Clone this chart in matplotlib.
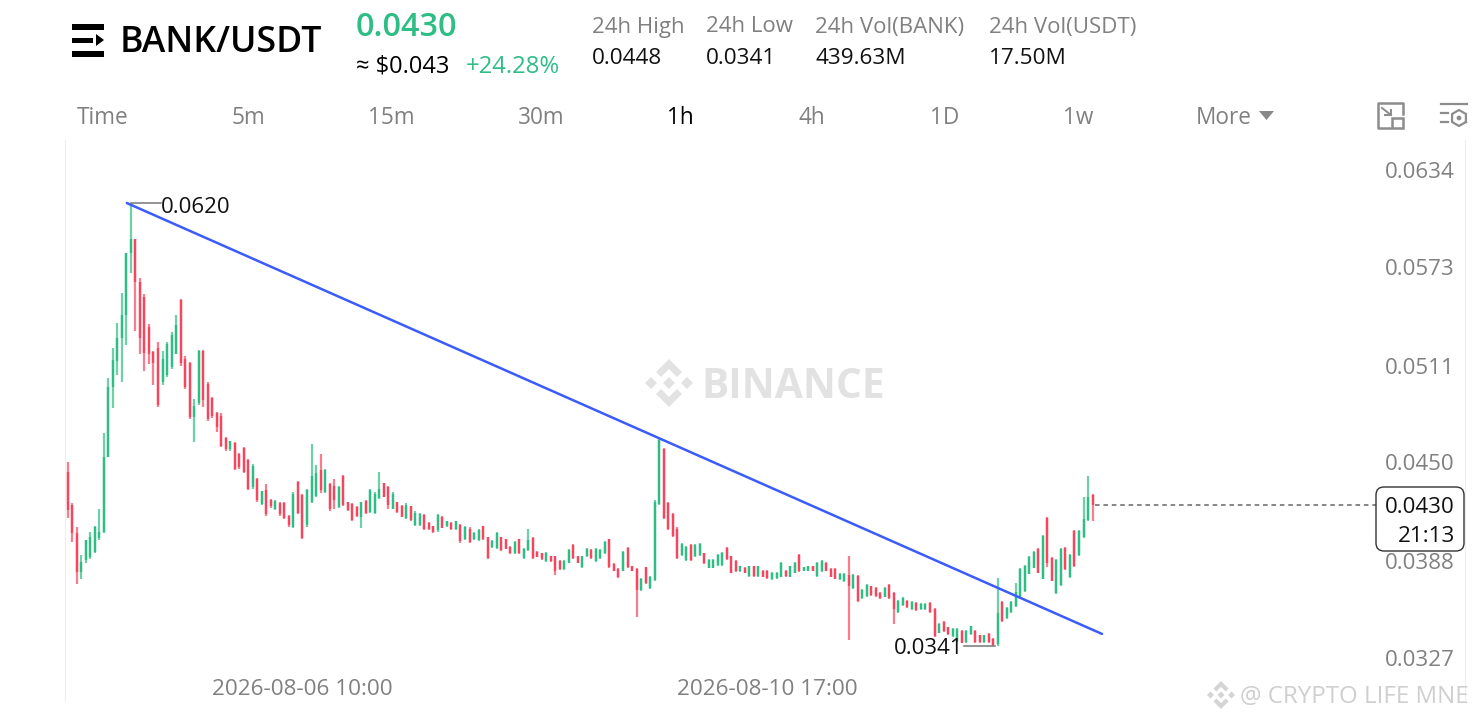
import numpy as np
import matplotlib
matplotlib.use("Agg")
import matplotlib.pyplot as plt
from matplotlib.patches import Polygon, Rectangle, FancyBboxPatch, Circle
from matplotlib.transforms import ScaledTranslation

# hourly candles, prices in 1e-5 USDT
highs = [4571,4308,4161,3983,4077,4130,4167,4270,4749,5096,5285,5442,5635,5887,6200,5971,5726,5627,5436,5268,
         5324,5266,5324,5385,5495,5595,5236,5197,4964,5274,5274,5074,4976,4886,4875,4724,4703,4695,4627,4665,
         4585,4556,4466,4388,4428,4337,4329,4316,4316,4234,4377,4449,4367,4396,4680,4550,4617,4528,4434,4459,
         4417,4487,4319,4308,4291,4319,4329,4396,4377,4508,4438,4417,4377,4319,4297,4308,4295,4258,4245,4239,
         4190,4169,4239,4228,4199,4188,4199,4178,4167,4157,4127,4148,4169,4098,4077,4127,4098,4087,4039,4069,
         4087,4027,4148,4098,4008,3997,3999,3980,3980,3951,3951,4018,4050,3980,3980,4029,4018,4029,4018,4069,
         4087,3930,3899,4010,4031,3917,3899,3840,3909,3850,4329,4711,4657,4319,4245,4157,4058,4039,4050,4050,
         4056,3997,3955,3959,3989,4001,4031,3980,3951,3917,3905,3917,3917,3917,3888,3888,3875,3875,3938,3888,
         3917,3938,3989,3909,3917,3917,3938,3951,3938,3899,3899,3871,3871,3978,3861,3859,3766,3798,3791,3779,
         3749,3783,3800,3749,3699,3720,3699,3695,3689,3678,3678,3686,3649,3552,3569,3531,3523,3521,3510,3510,
         3539,3510,3481,3481,3489,3460,3840,3691,3657,3691,3808,3899,3920,3976,4010,4029,4108,4220,3968,3959,
         4027,4031,3987,4140,4140,4350,4480,4367]
lows = [4218,4067,3800,3829,3930,3961,3997,4077,4119,4598,4907,5116,5074,5306,5757,5396,5247,5144,5186,5054,
        4917,5054,5106,5156,5247,5175,5026,4838,4697,4928,4917,4829,4848,4760,4665,4638,4638,4518,4528,4497,
        4392,4400,4318,4298,4230,4281,4266,4230,4207,4161,4151,4241,4081,4161,4308,4350,4371,4371,4262,4270,
        4279,4291,4260,4199,4220,4151,4239,4249,4239,4333,4346,4270,4270,4249,4220,4209,4199,4167,4169,4140,
        4140,4119,4130,4151,4161,4140,4140,4060,4077,4060,4077,4069,4077,3959,4027,4018,4010,4018,3989,3989,
        3989,3959,4010,3959,3970,3951,3941,3941,3859,3888,3888,3930,3959,3930,3899,3970,3959,3941,3959,3989,
        3899,3880,3840,3880,3899,3880,3590,3758,3800,3770,3821,4298,4207,4140,4098,3959,3978,3947,3947,3972,
        3978,3926,3899,3899,3917,3917,3951,3867,3877,3875,3867,3846,3846,3842,3842,3833,3825,3833,3842,3846,
        3842,3867,3875,3880,3880,3880,3846,3875,3880,3842,3829,3825,3815,3451,3768,3689,3709,3720,3728,3720,
        3709,3716,3709,3550,3619,3665,3649,3636,3632,3636,3636,3619,3468,3489,3497,3479,3468,3436,3426,3430,
        3479,3430,3430,3430,3430,3413,3410,3560,3581,3619,3657,3709,3749,3861,3899,3867,3829,3909,3817,3739,
        3789,3888,3840,3909,3978,4090,4199,4199]
opens = [4508,4298,4119,3878,3951,3972,4004,4088,4130,4602,5043,5207,5348,5495,5883,5971,5705,5610,5420,5260,
         5290,5070,5120,5170,5250,5590,5220,5190,4850,4940,5270,5060,4970,4880,4860,4720,4650,4690,4620,4655,
         4580,4410,4460,4305,4390,4330,4270,4310,4310,4230,4160,4440,4360,4170,4315,4355,4520,4380,4430,4420,
         4285,4480,4315,4305,4288,4225,4325,4255,4245,4340,4435,4410,4275,4315,4295,4215,4290,4172,4175,4235,
         4185,4165,4140,4225,4165,4185,4145,4175,4085,4150,4082,4075,4165,4095,4032,4025,4095,4082,4035,3995,
         4082,3965,4015,4090,4005,3993,3946,3977,3975,3948,3893,3935,4045,3976,3905,3975,4012,3945,3964,3993,
         4082,3926,3895,3885,4025,3913,3895,3762,3905,3775,3825,4305,4650,4310,4240,4150,3983,3952,4045,3978,
         3982,3993,3904,3904,3922,3922,4026,3975,3946,3880,3900,3852,3912,3848,3884,3884,3830,3838,3847,3884,
         3847,3872,3984,3884,3884,3912,3851,3880,3933,3895,3895,3830,3820,3860,3773,3854,3714,3725,3786,3774,
         3745,3720,3795,3745,3624,3670,3695,3641,3684,3641,3641,3681,3645,3494,3564,3527,3473,3441,3505,3435,
         3484,3505,3477,3435,3485,3456,3420,3686,3586,3624,3662,3714,3754,3866,3904,4024,3834,4215,3963,3744,
         3794,4026,3845,4135,3983,4095,4205,4362]
closes = [4266,4119,3878,3941,4077,4098,4161,4130,4602,5043,5211,5348,5495,5883,5971,5705,5350,5253,5250,5190,
          4930,5220,5310,5370,5430,5190,5040,4850,4920,5270,4960,4840,4860,4790,4670,4650,4700,4525,4535,4505,
          4400,4545,4330,4385,4240,4290,4325,4240,4215,4170,4370,4250,4090,4390,4480,4500,4390,4520,4270,4330,
          4410,4300,4265,4205,4228,4315,4245,4390,4370,4400,4350,4300,4370,4255,4225,4300,4205,4250,4240,4145,
          4145,4125,4235,4155,4195,4145,4195,4070,4160,4065,4122,4140,4082,3965,4072,4120,4015,4022,3993,4062,
          3993,4022,4080,3965,3973,3955,3995,3945,3880,3892,3947,4012,3965,3935,3975,4023,3963,4023,4014,4062,
          3905,3885,3845,4005,3905,3884,3760,3835,3805,3845,4320,4705,4215,4145,4105,3965,4052,4033,3952,4045,
          4050,3930,3950,3953,3984,3996,3955,3872,3882,3912,3872,3912,3852,3912,3847,3838,3870,3870,3933,3850,
          3912,3932,3880,3905,3912,3884,3933,3946,3884,3847,3834,3866,3866,3790,3855,3695,3761,3793,3733,3725,
          3714,3778,3714,3640,3694,3715,3653,3690,3637,3673,3673,3624,3475,3547,3502,3484,3518,3516,3431,3505,
          3534,3435,3435,3477,3435,3418,3620,3565,3652,3686,3750,3894,3915,3971,4005,3872,4103,3930,3822,3954,
          4022,3893,3982,3914,4135,4210,4350,4300]

price_ticks = [0.0634, 0.0573, 0.0511, 0.0450, 0.0388, 0.0327]
date_ticks = [52, 155]
date_labels = ["2026-08-06 10:00", "2026-08-10 17:00"]
tabs = ["Time", "5m", "15m", "30m", "1h", "4h", "1D", "1w", "More"]
tab_x = [103, 248, 391, 541, 680, 812, 945, 1078, 1224]
stats = [("24h High", "0.0448", 592), ("24h Low", "0.0341", 706),
         ("24h Vol(BANK)", "439.63M", 815), ("24h Vol(USDT)", "17.50M", 989)]
last_price = 0.0430
peak = 0.0620
bottom = 0.0341
trend_x = [13.1, 229.1]
trend_y = [0.0620, 0.03486]

GREEN = "#2ebd85"
RED = "#f6465d"
plt.rcParams["font.family"] = "Open Sans"

highs = np.array(highs) / 1e5
lows = np.array(lows) / 1e5
opens = np.array(opens) / 1e5
closes = np.array(closes) / 1e5
idx = np.arange(len(highs))
colors = np.where(closes >= opens, GREEN, RED)

fig = plt.figure(figsize=(14.75, 7.2), dpi=100, facecolor="white")
ax = fig.add_axes([65 / 1475, 1 - 700 / 720, 1400 / 1475, 560 / 720])
ax.set_xlim(-0.6, 309.5)
ax.set_ylim(0.03070, 0.06597)

ax.vlines(idx, lows, highs, colors=colors, lw=1.6, alpha=0.7, capstyle="butt")
ax.vlines(idx, opens, closes, colors=colors, lw=1.7, capstyle="butt")
ax.plot(trend_x, trend_y, color="#3b5bfb", lw=1.8, solid_capstyle="round")

# high / low markers
ax.plot([14, 20.6], [peak, peak], color="#777777", lw=1.1)
ax.text(20.6, peak - 0.00012, "0.0620", fontsize=16, va="center_baseline", ha="left", color="#111111")
ax.plot([198.5, 205.5], [bottom, bottom], color="#777777", lw=1.1)
ax.text(198.5, bottom, "0.0341", fontsize=16, va="center_baseline", ha="right", color="#111111")
ax.plot([227.5, 290.7], [last_price, last_price], color="#666666", lw=1.1, dashes=(3, 2.5))

for side in ["top", "bottom"]:
    ax.spines[side].set_visible(False)
for side in ["left", "right"]:
    ax.spines[side].set_color("#eeeeee")
ax.yaxis.tick_right()
ax.set_yticks(price_ticks)
ax.set_yticklabels([f"{v:.4f}" for v in price_ticks], fontsize=16.1, color="#808080", ha="right", va="bottom")
ax.tick_params(axis="y", length=0, pad=-7.2)
shift = ScaledTranslation(0, -2.5 / 100, fig.dpi_scale_trans)
for lab in ax.get_yticklabels():
    lab.set_transform(lab.get_transform() + shift)
ax.set_xticks(date_ticks)
ax.set_xticklabels(date_labels, fontsize=16.2, color="#808080")
ax.tick_params(axis="x", length=0, pad=-15)

# everything around the chart, in pixel coordinates
ov = fig.add_axes([0, 0, 1, 1], zorder=5)
ov.set_xlim(0, 1475)
ov.set_ylim(720, 0)
ov.axis("off")


def logo(cx, cy, r, color):
    s = r / 24.0
    ov.add_patch(Polygon([(cx - 6 * s, cy), (cx, cy - 6 * s), (cx + 6 * s, cy), (cx, cy + 6 * s)], fc=color, ec="none"))
    for d in (-1, 1):
        ov.add_patch(Polygon([(cx + d * 12 * s, cy), (cx + d * 18 * s, cy - 6 * s), (cx + d * 24 * s, cy),
                              (cx + d * 18 * s, cy + 6 * s)], fc=color, ec="none"))
        ov.add_patch(Polygon([(cx, cy + d * 24 * s), (cx + 13 * s, cy + d * 11 * s), (cx + 8 * s, cy + d * 6 * s),
                              (cx, cy + d * 14 * s), (cx - 8 * s, cy + d * 6 * s), (cx - 13 * s, cy + d * 11 * s)],
                             fc=color, ec="none"))


# watermarks
logo(669, 383, 24, "#e2e2e2")
ov.text(701, 387, "BINANCE", fontsize=29.3, fontweight="bold", color="#e2e2e2", va="center", ha="left")
logo(1221, 695, 14, "#d4d4d4")
ov.text(1240, 697, "@ CRYPTO LIFE MNE", fontsize=17.3, color="#cfcfcf", va="center", ha="left", clip_on=True)

# header
for y in (24, 51):
    ov.add_patch(Rectangle((72, y), 32, 5.5, fc="black", ec="none"))
ov.add_patch(Rectangle((72, 37.5), 21, 5.5, fc="black", ec="none"))
ov.add_patch(Polygon([(96, 34), (104, 40), (96, 46)], fc="black", ec="none"))
ov.text(120, 43, "BANK/USDT", fontsize=25.7, fontweight="semibold", color="black", va="center", ha="left")
ov.text(356, 27, "0.0430", fontsize=23.3, fontweight="semibold", color=GREEN, va="center", ha="left")
ov.text(356, 67, "≈ $0.043", fontsize=17, color="black", va="center", ha="left")
ov.text(466, 67, "+24.28%", fontsize=17.2, color=GREEN, va="center", ha="left")
for head, val, x in stats:
    ov.text(x, 27, head, fontsize=16, color="#808080", va="center", ha="left")
    ov.text(x, 59, val, fontsize=16.2, color="#111111", va="center", ha="left")
for name, x in zip(tabs, tab_x):
    ov.text(x, 118, name, fontsize=16.3, color="black" if name == "1h" else "#808080", va="center", ha="center")
ov.add_patch(Polygon([(1259, 111), (1274, 111), (1266.5, 120)], fc="#888888", ec="none"))

# toolbar icons
ic = "#8c8c8c"
ov.plot([1390, 1378, 1378, 1403, 1403], [128, 128, 103, 103, 114], color=ic, lw=1.8)
ov.add_patch(Rectangle((1392, 118), 11, 10, fc="white", ec=ic, lw=1.8))
ov.plot([1382, 1391], [108, 115], color=ic, lw=1.4)
ov.plot([1391, 1391, 1385], [110, 115, 115], color=ic, lw=1.4)
ov.plot([1441, 1467], [104, 104], color=ic, lw=1.6)
ov.plot([1441, 1448], [113, 113], color=ic, lw=1.6)
ov.plot([1441, 1448], [122, 122], color=ic, lw=1.6)
ang = np.deg2rad(np.arange(30, 391, 60))
ov.plot(1459 + 8 * np.cos(ang), 118 + 8 * np.sin(ang), color=ic, lw=1.6)
ov.add_patch(Circle((1459, 118), 2.4, fc=ic, ec="none"))

# current price box
ov.add_patch(FancyBboxPatch((1381, 492), 78, 54, boxstyle="round,pad=5,rounding_size=8",
                            fc="white", ec="#333333", lw=1))
ov.text(1455, 507.5, "0.0430", fontsize=16.1, color="#111111", va="center", ha="right")
ov.text(1455, 536, "21:13", fontsize=16.1, color="#111111", va="center", ha="right")

fig.savefig("out.png", dpi=100)
